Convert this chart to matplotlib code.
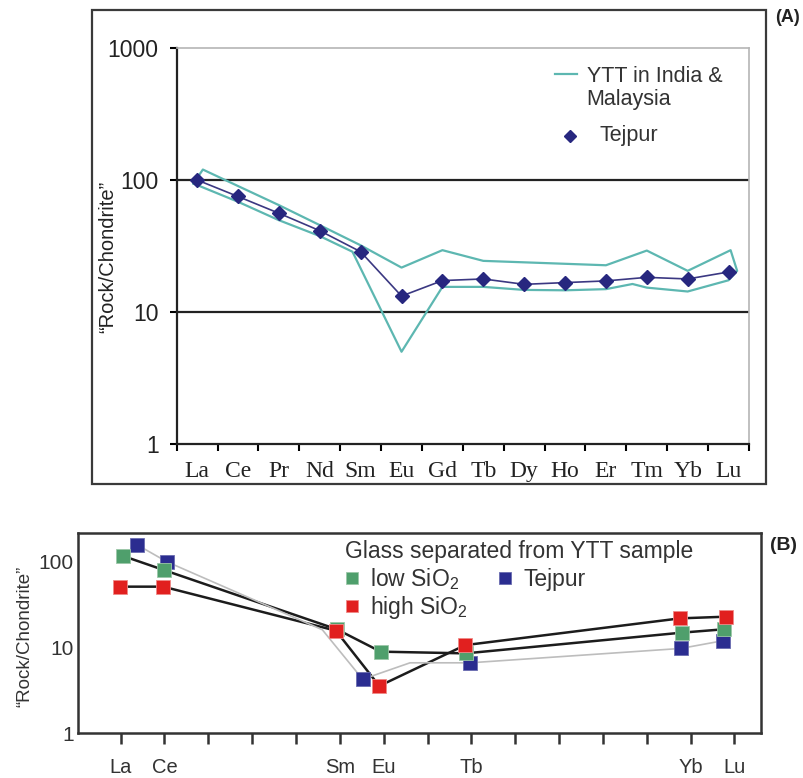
import numpy as np
import matplotlib
matplotlib.use("Agg")
from matplotlib import pyplot as plt
from matplotlib.lines import Line2D
from matplotlib.patches import Rectangle
from matplotlib.ticker import NullLocator

plt.rcParams['font.family'] = ['Liberation Sans', 'DejaVu Sans']
plt.rcParams['mathtext.default'] = 'regular'

# panel A: REE pattern, Tejpur vs YTT envelope
ree = ["La", "Ce", "Pr", "Nd", "Sm", "Eu", "Gd", "Tb", "Dy", "Ho", "Er", "Tm", "Yb", "Lu"]
tejpur_a = [100, 75, 56, 41.3, 28.6, 13.2, 17.3, 17.8, 16.2, 16.7, 17.2, 18.3, 17.8, 20.1]

ytt_upper_x = [0.41, 0.64, 1.5, 2.5, 3.5, 4.5, 5.5, 6.5, 7.5, 10.5, 11.5, 12.5, 13.55, 13.71]
ytt_upper_y = [94, 120, 90, 64.5, 45.5, 32, 21.7, 29.4, 24.4, 22.6, 29.2, 20.5, 29.4, 20.5]
ytt_lower_x = [0.41, 1.5, 2.5, 3.5, 4.3, 5.5, 6.5, 7.5, 8.5, 9.5, 10.5, 11.15, 11.5, 12.5, 13.5, 13.71]
ytt_lower_y = [94, 68.4, 49.6, 37.6, 28.6, 5.0, 15.5, 15.5, 14.7, 14.6, 14.9, 16.3, 15.3, 14.3, 17.4, 20.5]

# panel B: glass separates (x = element index, La=0 ... Lu=14)
b_ticks = ["La", "Ce", "", "", "", "Sm", "Eu", "", "Tb", "", "", "", "", "Yb", "Lu"]
low_x = [0.06, 0.99, 4.93, 5.93, 7.87, 12.8, 13.76]
low_y = [115, 79, 16.2, 8.9, 8.5, 14.8, 16.2]
high_x = [-0.02, 0.97, 4.91, 5.9, 7.86, 12.76, 13.81]
high_y = [50.7, 50.7, 15.6, 3.55, 10.6, 21.7, 22.7]
tej_x = [0.38, 1.05, 4.6, 5.52, 6.6, 7.97, 12.78, 13.73]
tej_y = [155, 99, 16, 4.25, 6.6, 6.6, 9.7, 11.9]
tej_marked = [0, 1, 3, 5, 6, 7]

teal = "#5db7b1"
navy = "#27277f"
green = "#4f9f6c"
red = "#e1201f"
blue = "#2b2d90"

fig = plt.figure(figsize=(8.04, 7.78), dpi=100)

# ---------- (A) ----------
ax = fig.add_axes([176.7 / 804, 1 - 444 / 778, (749 - 176.7) / 804, (444 - 48) / 778])
ax.set_yscale('log')
ax.set_ylim(1, 1000)
ax.set_xlim(0, 14)

env_x = ytt_upper_x + ytt_lower_x[::-1]
env_y = ytt_upper_y + ytt_lower_y[::-1]
ax.plot(env_x, env_y, color=teal, lw=1.6, zorder=2)
ax.plot(np.arange(len(ree)) + 0.5, tejpur_a, color="#3b3882", lw=1.2,
        marker='D', ms=7, mfc=navy, mec=navy, zorder=3)

for v in [10, 100]:
    ax.axhline(v, color='#222222', lw=1.6, zorder=1)

ax.set_yticks([1, 10, 100, 1000])
ax.set_yticklabels(["1", "10", "100", "1000"], fontsize=16.5, color='#222222')
ax.yaxis.set_minor_locator(NullLocator())
ax.set_xticks(np.arange(15))
ax.set_xticklabels([])
ax.set_xticks(np.arange(len(ree)) + 0.5, minor=True)
ax.set_xticklabels(ree, minor=True, family='Liberation Serif', fontsize=17, color='#222222')
ax.tick_params(axis='x', which='minor', length=0, pad=12)
ax.tick_params(axis='x', which='major', direction='out', length=5, width=1.5)
ax.tick_params(axis='y', which='major', direction='out', length=5, width=1.5, pad=8)
for s in ['left', 'bottom']:
    ax.spines[s].set_linewidth(1.6)
    ax.spines[s].set_color('#222222')
for s in ['top', 'right']:
    ax.spines[s].set_linewidth(1.2)
    ax.spines[s].set_color('#b5b5b5')

fig.text(108 / 804, 1 - 257 / 778, "\u201cRock/Chondrite\u201d", rotation=90,
         ha='center', va='center', fontsize=14.5, color='#222222')

# legend A
fig.add_artist(Line2D([555 / 804, 577 / 804], [1 - 74 / 778, 1 - 74 / 778], color=teal, lw=1.6))
fig.text(586.7 / 804, 1 - 87.7 / 778, "YTT in India &\nMalaysia", ha='left', va='center',
         fontsize=15.5, color='#333333', linespacing=1.12)
fig.add_artist(Line2D([570 / 804], [1 - 136 / 778], marker='D', ms=6, color=navy, lw=0))
fig.text(600 / 804, 1 - 136 / 778, "Tejpur", ha='left', va='center', fontsize=15.5, color='#333333')

fig.add_artist(Rectangle((92 / 804, 1 - 484 / 778), 674 / 804, 474 / 778, fill=False,
                         ec='#3a3a3a', lw=1.6, transform=fig.transFigure))
fig.text(788 / 804, 1 - 18 / 778, "(A)", ha='center', va='center', fontsize=13,
         fontweight='bold', color='#222222')

# ---------- (B) ----------
bx = fig.add_axes([77.7 / 804, 1 - 733.3 / 778, (760.7 - 77.7) / 804, (733.3 - 532.7) / 778])
bx.set_yscale('log')
bx.set_ylim(1, 215)
bx.set_xlim(-0.98, 14.6)

bx.plot(tej_x, tej_y, color='#bdbdbd', lw=1.2, marker='s', ms=9.5, mfc=blue, mec='#6a6cb0',
        mew=0.6, markevery=tej_marked, zorder=3)
bx.plot(low_x, low_y, color='#1c1c1c', lw=1.8, zorder=2)
bx.plot(high_x, high_y, color='#1c1c1c', lw=1.8, zorder=2)
bx.plot(low_x, low_y, lw=0, marker='s', ms=9.5, mfc=green, mec='#9cc8a8', mew=0.6, zorder=4)
bx.plot(high_x, high_y, lw=0, marker='s', ms=9.5, mfc=red, mec='#f08a88', mew=0.6, zorder=5)

bx.set_yticks([1, 10, 100])
bx.set_yticklabels(["1", "10", "100"], fontsize=15, color='#333333')
bx.yaxis.set_minor_locator(NullLocator())
bx.tick_params(axis='y', length=0, pad=3)
bx.set_xticks(np.arange(15))
bx.set_xticklabels(b_ticks, fontsize=14.5, color='#333333')
bx.tick_params(axis='x', direction='out', length=8, width=1.8, pad=10, color='#333333')
for s in bx.spines.values():
    s.set_linewidth(1.8)
    s.set_color('#333333')

fig.text(25 / 804, 1 - 636 / 778, "\u201cRock/Chondrite\u201d", rotation=90,
         ha='center', va='center', fontsize=13.5, color='#333333')

handles = [
    Line2D([], [], lw=0, marker='s', ms=9, mfc=green, mec='#9cc8a8', mew=0.6),
    Line2D([], [], lw=0, marker='s', ms=9, mfc=red, mec='#f08a88', mew=0.6),
    Line2D([], [], lw=0, marker='s', ms=9, mfc=blue, mec='#6a6cb0', mew=0.6),
]
leg = fig.legend(handles, ["low SiO$_2$", "high SiO$_2$", "Tejpur"], ncol=2,
                 title="Glass separated from YTT sample", alignment='left',
                 loc='upper left', bbox_to_anchor=(345 / 804, 1 - 540 / 778),
                 frameon=False, fontsize=16.5, title_fontsize=16.5, borderpad=0,
                 handlelength=0.6, handletextpad=0.5, labelspacing=0.12, columnspacing=1.3,
                 borderaxespad=0)
for t in leg.get_texts():
    t.set_color('#333333')
leg.get_title().set_color('#333333')

fig.text(784 / 804, 1 - 545 / 778, "(B)", ha='center', va='center', fontsize=14,
         fontweight='bold', color='#222222')

fig.savefig("out.png", dpi=100)
